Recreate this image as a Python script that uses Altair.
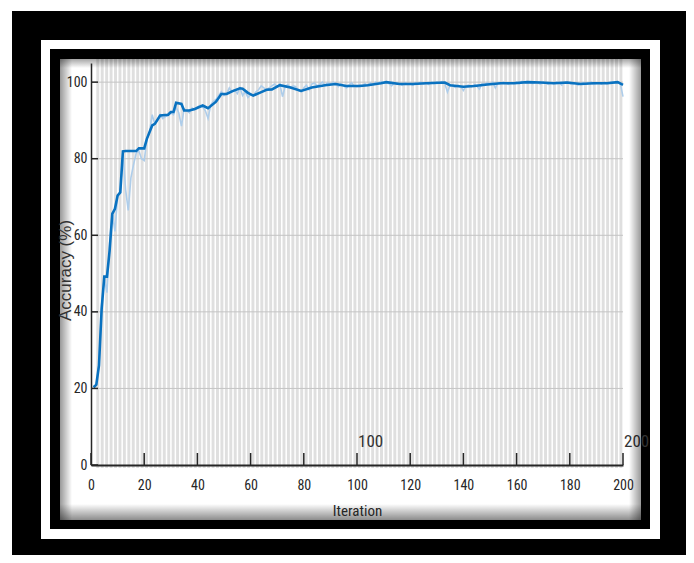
import altair as alt
import pandas as pd

# ---------------- data ----------------
# smoothed training accuracy (dark blue), key points
smooth_iter = [1, 2, 3, 4, 5, 6, 7, 8, 9, 10, 11, 12, 13, 15, 17, 18, 20, 21, 23, 24,
               26, 29, 30, 31, 32, 34, 35, 37, 39, 42, 44, 47, 49, 51, 53, 56, 57, 59, 61, 64,
               66, 68, 71, 75, 79, 83, 88, 92, 96, 101, 104, 109, 111, 116, 121, 126, 133, 135, 140, 144,
               149, 154, 159, 164, 169, 174, 179, 184, 189, 194, 198, 200]
smooth_acc = [20.3, 21, 26, 40.7, 49.2, 49.2, 56, 65.6, 66.9, 70.4, 71.2, 81.9, 82, 82, 82, 82.7, 82.7, 85.2, 88.7, 89.1,
              91.3, 91.5, 92.2, 92.2, 94.6, 94.3, 92.6, 92.6, 93, 93.9, 93.2, 94.9, 96.9, 96.9, 97.6, 98.4, 98.3, 97.2, 96.5, 97.4,
              98.0, 98.1, 99.2, 98.6, 97.7, 98.6, 99.2, 99.5, 99.0, 99.0, 99.2, 99.7, 100.0, 99.5, 99.5, 99.7, 99.9, 99.2, 98.8, 99.0,
              99.4, 99.7, 99.7, 100.0, 99.9, 99.7, 99.9, 99.5, 99.7, 99.7, 100.0, 99.3]

# raw training accuracy (light blue), one value per iteration 1..200
raw_acc = [
    20, 21, 26, 42, 49, 45, 58, 66, 61, 70,
    71, 82, 72, 66.5, 75, 78.5, 81.5, 82, 80, 79.5,
    85, 87, 91.5, 89, 90, 91.5, 90.5, 91, 91.2, 92,
    91.5, 93.5, 92, 88.5, 93, 92.5, 92, 93.2, 92.8, 93.5,
    94, 93.5, 92.5, 90.5, 94, 95, 95.5, 96.5, 97.5, 96.5,
    97, 98.5, 97.5, 98, 97, 98.5, 96.5, 97.5, 96, 96.8,
    96.5, 97.5, 98, 99, 98.5, 98, 98.5, 99, 99.5, 98.8,
    99.5, 96.2, 99, 99.3, 98.5, 99, 98.8, 97.8, 97.5, 98.5,
    99.2, 98, 99.5, 99.8, 99, 99.5, 100, 99.2, 99.8, 99.5,
    100, 99.5, 98.8, 99.5, 99, 98.5, 99.2, 99.8, 99, 98.8,
    99.3, 99.0, 99.6, 99.2, 99.8, 99.5, 100.0, 99.7, 100.2, 99.8,
    100.0, 99.6, 99.0, 99.8, 99.4, 99.6, 99.2, 99.8, 99.5, 99.6,
    99.2, 99.8, 99.5, 100.0, 99.6, 99.8, 99.4, 99.9, 99.6, 100.0,
    99.8, 100.2, 99.6, 97.4, 99.2, 99.0, 98.6, 99.2, 98.8, 97.8,
    99.0, 99.2, 98.8, 99.4, 99.0, 98.2, 99.6, 99.4, 99.8, 99.5,
    100.0, 98.5, 99.8, 99.6, 100.0, 99.7, 99.4, 99.9, 99.7, 100.0,
    99.6, 100.2, 100.0, 99.8, 100.1, 99.6, 100.0, 99.8, 99.5, 100.0,
    99.7, 99.4, 99.8, 99.6, 100.0, 99.8, 99.2, 99.9, 100.0, 99.6,
    99.4, 99.8, 99.2, 99.6, 99.9, 99.5, 99.8, 100.0, 99.4, 99.7,
    99.8, 99.5, 100.0, 99.6, 99.8, 100.1, 99.8, 100.0, 99.6, 96.2,
]
raw_iter = list(range(1, len(raw_acc) + 1))

x_ticks = [0, 20, 40, 60, 80, 100, 120, 140, 160, 180, 200]
y_ticks = [0, 20, 40, 60, 80, 100]
grid_y = [20, 40, 60, 80, 100]
top_labels = ["100", "200"]
top_label_iter = [100, 200]

# alternating epoch shading (background bands)
band_period = 5 / 3
band_width = 1.1
band_start = [2 + k * band_period for k in range(119)]
band_end = [s + band_width for s in band_start]

# ---------------- layout ----------------
W, H = 532, 402
NARROW = "Liberation Sans Narrow, Arial Narrow, Roboto Condensed, Liberation Sans"
DARK = "#262626"

xs = alt.Scale(domain=[0, 200], nice=False)
ys = alt.Scale(domain=[0, 105], nice=False)

X_AXIS = alt.Axis(values=x_ticks, title="Iteration", grid=False, ticks=False, tickSize=0,
                  labelPadding=13, labelFont=NARROW, labelFontSize=14, labelColor=DARK,
                  titleFont=NARROW, titleFontSize=15, titleFontWeight="normal",
                  titleColor=DARK, titleBaseline="top", titleY=38,
                  domainColor=DARK, domainWidth=2, zindex=1, labelFlush=False)
Y_AXIS = alt.Axis(values=y_ticks, title="Accuracy (%)", grid=False, ticks=False, tickSize=0,
                  labelPadding=4, labelFont=NARROW, labelFontSize=14, labelColor=DARK,
                  titleFont="Liberation Sans", titleFontSize=17, titleFontWeight="normal",
                  titleColor="#333333", titleX=-26, titleY=207, titleAngle=-90,
                  titleAlign="center", titleBaseline="middle",
                  domainColor=DARK, domainWidth=1.5, zindex=1, labelFlush=False)

one = alt.Data(values=[{}])


def box(x, x2, y, y2, color):
    return alt.Chart(one).mark_rect(color=color).encode(
        x=alt.value(x), x2=alt.value(x2), y=alt.value(y), y2=alt.value(y2))


def shade(x, x2, y, y2, horizontal, reverse, alpha):
    c0 = f"rgba(0,0,0,{alpha})"
    c1 = "rgba(0,0,0,0)"
    stops = [alt.GradientStop(color=c1 if reverse else c0, offset=0),
             alt.GradientStop(color=c0 if reverse else c1, offset=1)]
    if horizontal:
        g = alt.Gradient(gradient="linear", stops=stops, x1=0, x2=1, y1=0, y2=0)
    else:
        g = alt.Gradient(gradient="linear", stops=stops, x1=0, x2=0, y1=0, y2=1)
    return alt.Chart(one).mark_rect(fill=g).encode(
        x=alt.value(x), x2=alt.value(x2), y=alt.value(y), y2=alt.value(y2))


frames = [
    box(-79, 610, -52, 500, "#000000"),
    box(-50, 569, -23, 476, "#ffffff"),
    box(-41, 559, -14, 466, "#000000"),
    box(-31, 550, -4, 457, "#ffffff"),
]

bands = alt.Chart(pd.DataFrame({"s": band_start, "e": band_end})).mark_rect(
    color="#dfdfdf").encode(
    x=alt.X("s:Q", scale=xs, axis=X_AXIS), x2="e:Q",
    y=alt.value(-4), y2=alt.value(H + 3))

grid = alt.Chart(pd.DataFrame({"g": grid_y})).mark_rule(
    color="#c4c4c4", strokeWidth=1).encode(
    y=alt.Y("g:Q", scale=ys, axis=Y_AXIS), x=alt.value(0), x2=alt.value(W))

raw = alt.Chart(pd.DataFrame({"it": raw_iter, "acc": raw_acc})).mark_line(
    color="#aecdea", strokeWidth=1.6).encode(
    x=alt.X("it:Q", scale=xs, axis=X_AXIS), y=alt.Y("acc:Q", scale=ys, axis=Y_AXIS))

smooth = alt.Chart(pd.DataFrame({"it": smooth_iter, "acc": smooth_acc})).mark_line(
    color="#0a72c0", strokeWidth=2.6).encode(
    x=alt.X("it:Q", scale=xs, axis=X_AXIS), y=alt.Y("acc:Q", scale=ys, axis=Y_AXIS))

xtick = alt.Chart(pd.DataFrame({"t": x_ticks})).mark_rule(
    color=DARK, strokeWidth=1.5).encode(
    x=alt.X("t:Q", scale=xs, axis=X_AXIS), y=alt.value(H), y2=alt.value(H - 12))

ytick = alt.Chart(pd.DataFrame({"t": y_ticks})).mark_rule(
    color=DARK, strokeWidth=1.5).encode(
    y=alt.Y("t:Q", scale=ys, axis=Y_AXIS), x=alt.value(0), x2=alt.value(7))

toplab = alt.Chart(pd.DataFrame({"it": top_label_iter, "lab": top_labels})).mark_text(
    align="left", baseline="bottom", font=NARROW, fontSize=17, color="#333333", dx=1).encode(
    x=alt.X("it:Q", scale=xs, axis=X_AXIS), y=alt.value(388), text="lab:N")

shadows = [
    shade(-31, 550, -4, 5, False, False, 0.35),
    shade(-31, 550, 441, 457, False, True, 0.45),
    shade(-31, -19, -4, 457, True, False, 0.4),
    shade(538, 550, -4, 457, True, True, 0.4),
]

chart = alt.layer(*frames, bands, grid, raw, smooth, xtick, ytick, toplab, *shadows).properties(
    width=W, height=H,
    autosize=alt.AutoSizeParams(type="none"),
    padding={"left": 83, "top": 55, "right": 63, "bottom": 90},
    background="white",
).configure_view(stroke=None)

chart.save("out.html", embed_options={"renderer": "svg", "actions": False})
